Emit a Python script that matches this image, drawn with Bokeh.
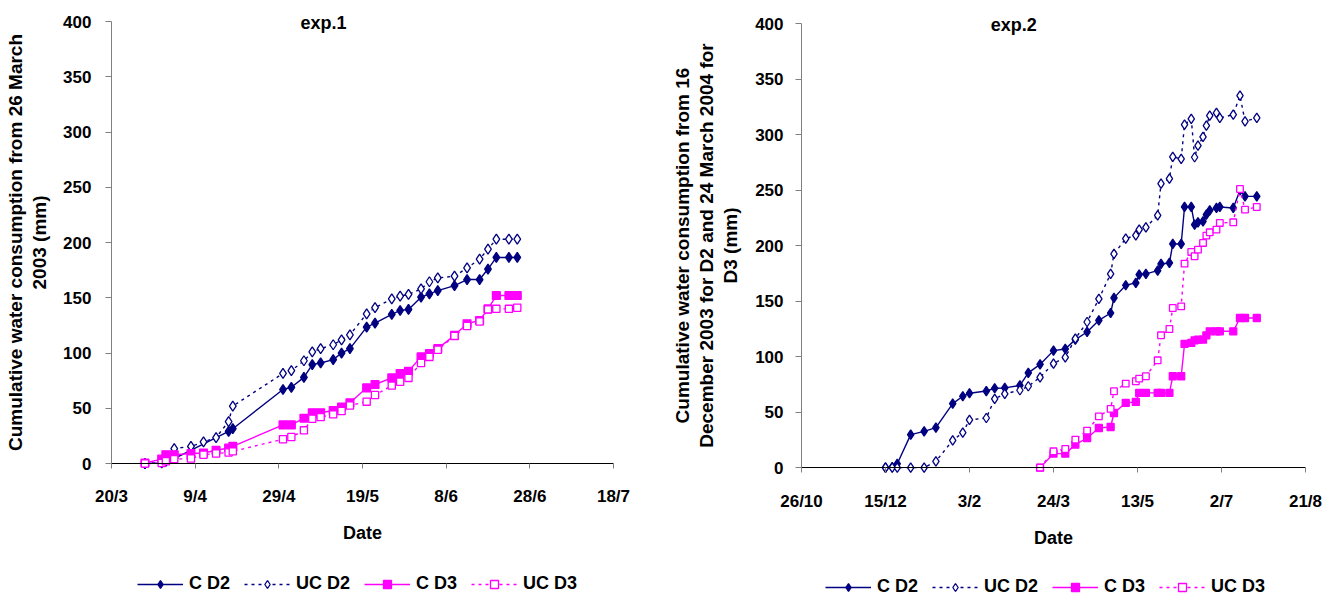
import pandas as pd
from bokeh.plotting import figure
from bokeh.models import Range1d, FixedTicker, Legend, LegendItem, Label
from bokeh.layouts import row
from bokeh.embed import file_html
from bokeh.resources import INLINE

# ---------------- data: exp.1 (2003) ----------------
exp1_start = "2003-03-20"
exp1_tick_dates = ["2003-03-20", "2003-04-09", "2003-04-29", "2003-05-19",
                   "2003-06-08", "2003-06-28", "2003-07-18"]
exp1_tick_labels = ["20/3", "9/4", "29/4", "19/5", "8/6", "28/6", "18/7"]

exp1_dates = ["2003-03-28", "2003-04-01", "2003-04-02", "2003-04-04", "2003-04-08",
              "2003-04-11", "2003-04-14", "2003-04-17", "2003-04-18", "2003-04-30",
              "2003-05-02", "2003-05-05", "2003-05-07", "2003-05-09", "2003-05-12",
              "2003-05-14", "2003-05-16", "2003-05-20", "2003-05-22", "2003-05-26",
              "2003-05-28", "2003-05-30", "2003-06-02", "2003-06-04", "2003-06-06",
              "2003-06-10", "2003-06-13", "2003-06-16", "2003-06-18", "2003-06-20",
              "2003-06-23", "2003-06-25"]
exp1_dates_c_d2 = ["2003-03-28", "2003-04-01", "2003-04-02", "2003-04-04", "2003-04-17",
                   "2003-04-18", "2003-04-30", "2003-05-02", "2003-05-05", "2003-05-07",
                   "2003-05-09", "2003-05-12", "2003-05-14", "2003-05-16", "2003-05-20",
                   "2003-05-22", "2003-05-26", "2003-05-28", "2003-05-30", "2003-06-02",
                   "2003-06-04", "2003-06-06", "2003-06-10", "2003-06-13", "2003-06-16",
                   "2003-06-18", "2003-06-20", "2003-06-23", "2003-06-25"]
exp1_c_d2 = [0, 0.5, 2, 4.5, 29, 31.5, 67, 69, 78, 89.5, 91, 94, 100, 104, 123.5, 127,
             135, 138.5, 139.5, 150.5, 153.5, 156.5, 161, 166.5, 166.5, 176, 186.5,
             186.5, 186.5]
exp1_uc_d2 = [0, 1, 3, 13.5, 15.5, 19.5, 23.5, 38, 52, 81.5, 84, 93, 101, 104, 107.5,
              112, 116.5, 135.5, 141, 149, 151.5, 153, 158, 164.5, 168, 169.5, 177,
              185, 194, 203, 203, 203]
exp1_c_d3 = [0.5, 4, 8, 8, 9, 9.5, 12, 14, 15.5, 35, 35, 41, 46, 46, 48, 51, 55, 68.5,
             71.5, 77.5, 81.5, 83.5, 96.5, 99.5, 104, 116, 126.5, 129.5, 140, 152, 152,
             152]
exp1_uc_d3 = [0, 0.5, 2, 4, 4.5, 8, 9, 10, 11, 22, 24, 30, 40.5, 42, 44.5, 47.5, 52.5,
              56, 62, 70.5, 74, 77.5, 91, 96.5, 103, 115.5, 124.5, 128.5, 139.5, 140,
              140, 141]

# ---------------- data: exp.2 (2003-2004) ----------------
exp2_start = "2003-10-26"
exp2_tick_dates = ["2003-10-26", "2003-12-15", "2004-02-03", "2004-03-24",
                   "2004-05-13", "2004-07-02", "2004-08-21"]
exp2_tick_labels = ["26/10", "15/12", "3/2", "24/3", "13/5", "2/7", "21/8"]

exp2_dates_d2 = ["2003-12-15", "2003-12-19", "2003-12-22", "2003-12-30", "2004-01-07",
                 "2004-01-14", "2004-01-24", "2004-01-30", "2004-02-03", "2004-02-13",
                 "2004-02-18", "2004-02-24", "2004-03-04", "2004-03-09", "2004-03-16",
                 "2004-03-24", "2004-03-31", "2004-04-06", "2004-04-13", "2004-04-20",
                 "2004-04-27", "2004-04-29", "2004-05-06", "2004-05-12", "2004-05-14",
                 "2004-05-18", "2004-05-25", "2004-05-27", "2004-06-01", "2004-06-03",
                 "2004-06-08", "2004-06-10", "2004-06-14", "2004-06-16", "2004-06-18",
                 "2004-06-21", "2004-06-23", "2004-06-25", "2004-06-29", "2004-07-01",
                 "2004-07-09", "2004-07-13", "2004-07-16", "2004-07-23"]
exp2_c_d2 = [0, 0.5, 3.5, 29.7, 32.7, 36, 57.7, 64.3, 67, 69, 71.5, 71.8, 74, 85.3, 93,
             105.4, 106.9, 115.3, 122.2, 132.7, 139.3, 152.9, 164.3, 166.4, 173.9, 174.5,
             177.5, 183.5, 184.4, 201.5, 201.5, 234.8, 234.8, 218.9, 221, 221.9, 227.9,
             231.8, 233.9, 234.8, 233.9, 249.8, 244.4, 244.4]
exp2_uc_d2 = [0, 0, 0, 0, 0, 5.7, 24.6, 31.5, 43, 44.7, 62, 66.5, 69.7, 73.3, 81.4, 93.7,
              99.4, 116.2, 131.2, 152, 174.5, 192.5, 206.3, 209.3, 214.4, 216.5, 227.3,
              255.9, 260.4, 279.9, 278.1, 309, 314.1, 279.6, 290.1, 297.9, 308.1, 317.1,
              319.5, 315, 318, 335.1, 312, 315]

exp2_dates_d3 = ["2004-03-16", "2004-03-24", "2004-03-31", "2004-04-06", "2004-04-13",
                 "2004-04-20", "2004-04-27", "2004-04-29", "2004-05-06", "2004-05-12",
                 "2004-05-14", "2004-05-18", "2004-05-25", "2004-05-27", "2004-06-01",
                 "2004-06-03", "2004-06-08", "2004-06-10", "2004-06-14", "2004-06-16",
                 "2004-06-18", "2004-06-21", "2004-06-23", "2004-06-25", "2004-06-29",
                 "2004-07-01", "2004-07-09", "2004-07-13", "2004-07-16", "2004-07-23"]
exp2_c_d3 = [0, 12.6, 12.6, 20.7, 26.7, 35.7, 36.6, 49.2, 58.3, 59.2, 67.3, 67.3, 67.3,
             67.3, 67.3, 82.3, 82.3, 111.4, 112.3, 114.7, 115.3, 115.3, 119.2, 122.8,
             122.8, 122.8, 122.8, 134.8, 134.8, 134.8]
exp2_uc_d3 = [0, 14.7, 16.8, 25.2, 33.3, 46.2, 52.9, 68.8, 75.7, 77.8, 80.2, 82.3, 96.7,
              119.2, 124.9, 143.8, 145.3, 183.8, 194.3, 190.4, 196.4, 202.4, 209, 212,
              214.4, 220.4, 221, 251, 232.4, 234.8]

y_ticks = [0, 50, 100, 150, 200, 250, 300, 350, 400]

FONT = "Liberation Sans"
NAVY = "#000080"
MAG = "#FF00FF"


def to_days(dates, start):
    s = pd.Timestamp(start)
    return [(pd.Timestamp(d) - s).days for d in dates]


def make_plot(start, tick_dates, tick_labels, series, title, title_x, ylabel,
              frame_w, frame_h, xlo, xhi, xmax, ybot, ytop, mb_top,
              ystand, lstand, xstand, xlstand, leg_loc):
    ticks = to_days(tick_dates, start)
    p = figure(frame_width=frame_w, frame_height=frame_h,
               x_range=Range1d(xlo, xhi), y_range=Range1d(ybot, ytop),
               output_backend="svg", toolbar_location=None,
               min_border_left=0, min_border_right=0,
               min_border_top=mb_top, min_border_bottom=0)
    p.xgrid.visible = False
    p.ygrid.visible = False
    p.outline_line_color = None
    p.background_fill_color = "white"
    p.border_fill_color = "white"

    xa = p.xaxis[0]
    xa.ticker = FixedTicker(ticks=ticks)
    xa.major_label_overrides = {t: l for t, l in zip(ticks, tick_labels)}
    xa.axis_label = "Date"
    xa.fixed_location = 0
    xa.bounds = (0, xmax)
    ya = p.yaxis[0]
    ya.ticker = FixedTicker(ticks=y_ticks)
    ya.axis_label = ylabel
    ya.fixed_location = 0
    ya.bounds = (0, 400)

    for ax in (xa, ya):
        ax.major_label_text_font = FONT
        ax.major_label_text_font_style = "bold"
        ax.major_label_text_font_size = "17px"
        ax.major_label_text_color = "black"
        ax.axis_label_text_font = FONT
        ax.axis_label_text_font_style = "bold"
        ax.axis_label_text_color = "black"
        ax.minor_tick_line_color = None
        ax.major_tick_in = 0
        ax.major_tick_line_color = "#808080"
    xa.axis_line_color = "black"
    xa.major_tick_out = 5
    xa.major_label_standoff = xstand
    xa.axis_label_standoff = xlstand
    xa.axis_label_text_font_size = "18px"
    ya.axis_line_color = "#808080"
    ya.major_tick_out = 6
    ya.major_label_standoff = ystand
    ya.axis_label_standoff = lstand
    ya.axis_label_text_font_size = "19px"
    ya.axis_label_text_line_height = 1.15

    items = []
    for name, dates, vals, color, dash, marker, filled, size in series:
        x = to_days(dates, start)
        ln = p.line(x, vals, line_color=color, line_width=1.4, line_dash=dash)
        sc = p.scatter(x, vals, marker=marker, size=size,
                       line_color=color, line_width=1.3,
                       fill_color=(color if filled else "white"))
        items.append(LegendItem(label=name, renderers=[ln, sc]))

    leg = Legend(items=items, orientation="horizontal", location=leg_loc,
                 label_text_font=FONT, label_text_font_style="bold",
                 label_text_font_size="18px", label_text_color="black",
                 border_line_color=None, background_fill_alpha=0,
                 glyph_width=46, glyph_height=20, label_standoff=6, spacing=14,
                 padding=0, margin=0, label_height=18)
    p.add_layout(leg)

    p.add_layout(Label(x=title_x, y=399, text=title, text_align="center",
                       text_baseline="middle", text_font=FONT,
                       text_font_style="bold", text_font_size="18px",
                       text_color="black"))
    return p


s1 = [("C D2", exp1_dates_c_d2, exp1_c_d2, NAVY, "solid", "diamond", True, 10),
      ("UC D2", exp1_dates, exp1_uc_d2, NAVY, "3 4", "diamond", False, 10),
      ("C D3", exp1_dates, exp1_c_d3, MAG, "solid", "square", True, 7.8),
      ("UC D3", exp1_dates, exp1_uc_d3, MAG, "3 4", "square", False, 7.2)]
s2 = [("C D2", exp2_dates_d2, exp2_c_d2, NAVY, "solid", "diamond", True, 9.5),
      ("UC D2", exp2_dates_d2, exp2_uc_d2, NAVY, "3 4", "diamond", False, 9.5),
      ("C D3", exp2_dates_d3, exp2_c_d3, MAG, "solid", "square", True, 7),
      ("UC D3", exp2_dates_d3, exp2_uc_d3, MAG, "3 4", "square", False, 6.6)]

# left: frame spans 649 px; day 0 sits 111 px from its left edge (4.1833 px/day)
p1 = make_plot(exp1_start, exp1_tick_dates, exp1_tick_labels, s1, "exp.1", 50.7,
               "Cumulative water consumption from 26 March\n2003 (mm)",
               649, 595, -26.53, 128.61, 120, -128.5, 410, 10,
               14, 10, 18, 14, (137, 11))
# right: frame spans 679 px; day 0 sits 152 px from its left edge (1.68 px/day)
p2 = make_plot(exp2_start, exp2_tick_dates, exp2_tick_labels, s2, "exp.2", 126.4,
               "Cumulative water consumption from 16\nDecember 2003 for D2 and 24 March 2004 for\nD3 (mm)",
               679, 595, -90.48, 313.69, 300, -124.2, 411.8, 10,
               12, 11, 19, 14, (176, 8))

layout = row(p1, p2)
open("out.html", "w").write(file_html(layout, INLINE))
